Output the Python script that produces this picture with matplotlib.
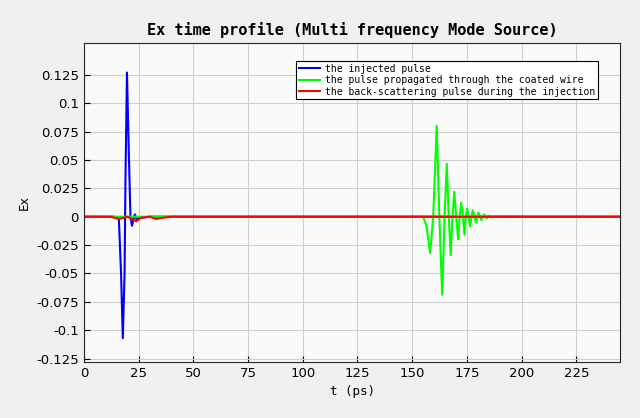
import matplotlib
matplotlib.use("Agg")
import matplotlib.pyplot as plt
import numpy as np

# injected pulse (blue) key points: time (ps), Ex
inj_t = [0, 14, 16, 17.0, 17.8, 18.6, 19.0, 19.7, 20.5, 21.3, 22.0, 22.7, 23.3, 24.0, 26, 30, 40, 245]
inj_v = [0, 0, -0.002, -0.05, -0.107, -0.05, 0.03, 0.127, 0.06, 0.0, -0.008, -0.002, 0.002, -0.002, -0.001, 0, 0, 0]

# propagated pulse (green)
prop_t = [0, 155.0, 156.5, 158.2, 159.6, 161.2, 162.4, 163.7, 164.8, 165.8, 166.7, 167.6, 168.4,
          169.2, 170.1, 171.0, 171.7, 172.4, 173.2, 173.9, 174.5, 175.1, 175.8, 176.5, 177.1,
          177.7, 178.4, 179.1, 179.7, 180.3, 181.0, 181.6, 182.2, 182.9, 183.5, 184.1, 184.8,
          185.4, 186.0, 186.6, 187.3, 188.0, 190, 195, 200, 245]
prop_v = [0, 0, -0.008, -0.032, 0.0, 0.080, 0.0, -0.0687, 0.0, 0.0467, 0.0, -0.034, 0.0,
          0.022, 0.0, -0.020, 0.0, 0.0123, 0.0, -0.016, 0.0, 0.0073, 0.0, -0.0085, 0.0,
          0.0056, 0.0, -0.005, 0.0, 0.0037, 0.0, -0.003, 0.0, 0.002, 0.0, -0.0015, 0.0,
          0.001, 0.0, -0.0008, 0.0, 0.0005, 0.0, 0.0002, 0, 0]

# back-scattered pulse (red)
back_t = [0, 12, 16, 18, 20, 22, 24, 26, 30, 33, 36, 40, 245]
back_v = [0, 0, -0.002, -0.001, 0.0, -0.002, -0.004, -0.001, 0.0, -0.002, -0.001, 0, 0]

fig = plt.figure(figsize=(6.4, 4.18), dpi=100, facecolor="#f0f0f0")
ax = fig.add_axes([0.131, 0.134, 0.838, 0.763])
ax.set_facecolor("#fafafa")

ax.plot(inj_t, inj_v, color="#0000ff", lw=1.5, label="the injected pulse")
ax.plot(prop_t, prop_v, color="#00ff00", lw=1.5, label="the pulse propagated through the coated wire")
ax.plot(back_t, back_v, color="#ff0000", lw=1.5, label="the back-scattering pulse during the injection")

ax.set_xlim(0, 245)
ax.set_ylim(-0.128, 0.153)
ax.set_xticks(np.arange(0, 226, 25))
yt = np.arange(-0.125, 0.126, 0.025)
ax.set_yticks(yt)
ax.set_yticklabels(["0" if abs(v) < 1e-9 else f"{v:g}" for v in yt])
ax.tick_params(labelsize=9.5, direction="in", length=4)
ax.grid(True, color="#d0d0d0", lw=0.8)
for s in ax.spines.values():
    s.set_color("#262626")

ax.set_xlabel("t (ps)", fontsize=9, family="DejaVu Sans Mono")
ax.set_ylabel("Ex", fontsize=9, family="DejaVu Sans Mono")
ax.set_title("Ex time profile (Multi frequency Mode Source)", fontsize=11,
             fontweight="bold", family="DejaVu Sans Mono")

leg = ax.legend(loc="upper right", prop={"family": "DejaVu Sans Mono", "size": 7},
                fancybox=False, edgecolor="black", framealpha=1, borderpad=0.3,
                labelspacing=0.15, handlelength=2.2, handletextpad=0.5,
                bbox_to_anchor=(0.968, 0.96))
leg.get_frame().set_linewidth(0.8)

fig.savefig("out.png", dpi=100, facecolor=fig.get_facecolor())
